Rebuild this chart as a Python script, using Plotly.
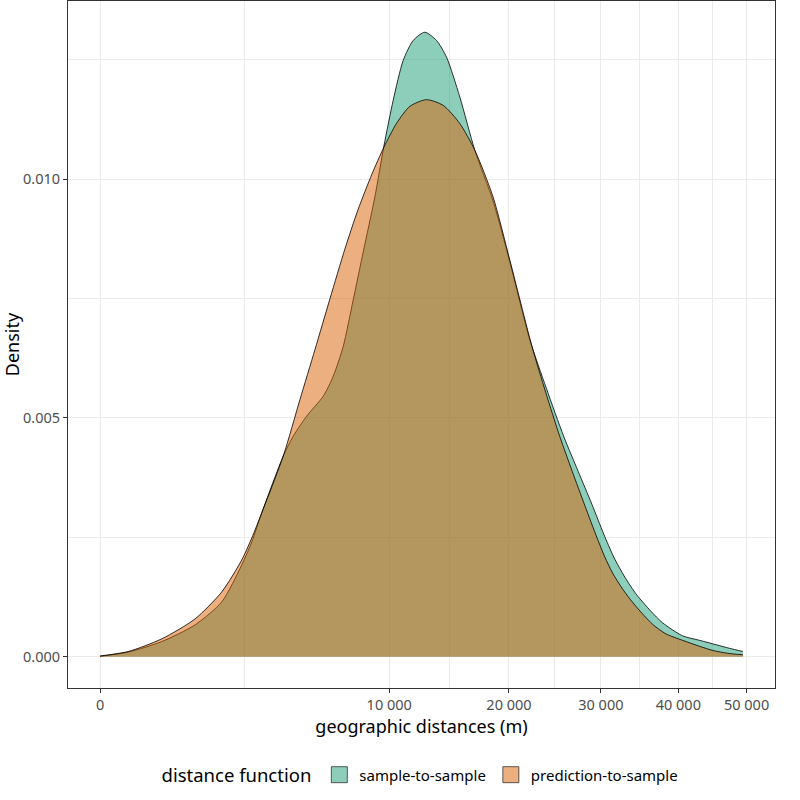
import numpy as np
import plotly.graph_objects as go

# densities (ggplot density on a sqrt-scaled x axis)
s2s_dist = [0, 94, 455, 1078, 1769, 2398, 2749, 3135, 4013, 4463, 5103, 5956,
            6501, 7070, 7664, 8281, 9033, 9634, 10275, 10987, 11724, 12616,
            13540, 14357, 15480, 16796, 18477, 20078, 22085, 23833, 25715,
            27341, 28932, 30346, 31565, 32932, 34457, 36260, 37858, 40596,
            42999, 45426, 47406, 49427]
s2s_density = [0.0000104, 0.0000981, 0.000319, 0.000668, 0.001148, 0.001921,
               0.002401, 0.003027, 0.004203, 0.004620, 0.005038, 0.005455,
               0.005873, 0.006499, 0.007474, 0.008476, 0.009631, 0.010689,
               0.011649, 0.012484, 0.012902, 0.013075, 0.012902, 0.012553,
               0.011718, 0.010605, 0.009541, 0.008267, 0.006639, 0.005616,
               0.004614, 0.003883, 0.003194, 0.002568, 0.002088, 0.001670,
               0.001294, 0.000960, 0.000710, 0.000438, 0.000344, 0.000251,
               0.000177, 0.000111]

p2s_dist = [0, 96, 455, 1078, 1769, 2398, 2749, 3135, 4013, 4778, 5521, 6319,
            7169, 7950, 8836, 9634, 10514, 11479, 12748, 14077, 15480, 16796,
            18477, 20078, 22290, 23759, 25274, 26665, 28096, 29559, 30478,
            31417, 32489, 33577, 35081, 36603, 38294, 40596, 42999, 44927,
            47106, 49427]
p2s_density = [0.0000167, 0.000111, 0.000376, 0.000793, 0.001357, 0.002025,
               0.002484, 0.003027, 0.004203, 0.005386, 0.006430, 0.007495,
               0.008539, 0.009353, 0.010104, 0.010668, 0.011169, 0.011524,
               0.011664, 0.011545, 0.011163, 0.010605, 0.009624, 0.008309,
               0.006514, 0.005532, 0.004614, 0.003883, 0.003173, 0.002484,
               0.002088, 0.001754, 0.001461, 0.001211, 0.000919, 0.000668,
               0.000480, 0.000344, 0.000219, 0.000132, 0.0000731, 0.0000418]

x_breaks = [0, 10000, 20000, 30000, 40000, 50000]
x_labels = ["0", "10 000", "20 000", "30 000", "40 000", "50 000"]
y_breaks = [0.0, 0.005, 0.010]
y_labels = ["0.000", "0.005", "0.010"]

series = [
    ("sample-to-sample", s2s_dist, s2s_density, "rgba(27,158,119,0.5)"),
    ("prediction-to-sample", p2s_dist, p2s_density, "rgba(217,95,2,0.5)"),
]

font = "Noto Sans"
grid = "#EBEBEB"

fig = go.Figure()
for name, dist, dens, col in series:
    fig.add_scatter(
        x=np.sqrt(dist),
        y=dens,
        mode="lines",
        fill="tozeroy",
        fillcolor=col,
        line=dict(color="black", width=0.8, shape="spline", smoothing=0.7),
        showlegend=False,
        hoverinfo="skip",
    )
    # square legend keys like ggplot's
    fig.add_scatter(
        x=[None],
        y=[None],
        mode="markers",
        name=name,
        marker=dict(symbol="square", size=16, color=col,
                    line=dict(color="#333333", width=0.8)),
    )

# ggplot-style 5% expansion in transformed space
sx = np.sqrt(s2s_dist + p2s_dist)
xmin, xmax = sx.min(), sx.max()
xpad = 0.05 * (xmax - xmin)
ymax = max(s2s_density + p2s_density)
ypad = 0.05 * ymax

major_x = np.sqrt(x_breaks)
minor_x = (major_x[:-1] + major_x[1:]) / 2

axis_common = dict(
    tickmode="array",
    ticks="outside",
    ticklen=4,
    tickcolor="#333333",
    tickfont=dict(family=font, size=14.5, color="#4D4D4D"),
    showgrid=True,
    gridcolor=grid,
    gridwidth=1.1,
    showline=True,
    mirror=True,
    linecolor="#333333",
    linewidth=1,
    zeroline=False,
)
fig.update_xaxes(
    range=[xmin - xpad, xmax + xpad],
    tickvals=major_x,
    ticktext=x_labels,
    minor=dict(tickmode="array", tickvals=minor_x, showgrid=True,
               gridcolor=grid, gridwidth=0.6, ticks=""),
    title=dict(text="geographic distances (m)",
               font=dict(family=font, size=18, color="black"), standoff=1),
    **axis_common,
)
fig.update_yaxes(
    range=[-ypad, ymax + ypad],
    tickvals=y_breaks,
    ticktext=y_labels,
    minor=dict(dtick=0.0025, tick0=0, showgrid=True, gridcolor=grid,
               gridwidth=0.6, ticks=""),
    title=dict(text="Density", font=dict(family=font, size=18, color="black"),
               standoff=9),
    **axis_common,
)
fig.update_layout(
    width=800,
    height=800,
    plot_bgcolor="white",
    paper_bgcolor="white",
    margin=dict(l=68, r=25, t=1, b=112),
    font=dict(family=font),
    legend=dict(
        orientation="h",
        x=0.5,
        xanchor="center",
        y=-0.128,
        yanchor="middle",
        title=dict(text="distance function",
                   font=dict(family=font, size=18.5, color="black")),
        font=dict(family=font, size=15, color="black"),
        itemclick=False,
        tracegroupgap=0,
    ),
)
fig.write_html(
    "out.html",
    config={"displayModeBar": False},
    post_script="document.body.style.margin = '0';",
)
